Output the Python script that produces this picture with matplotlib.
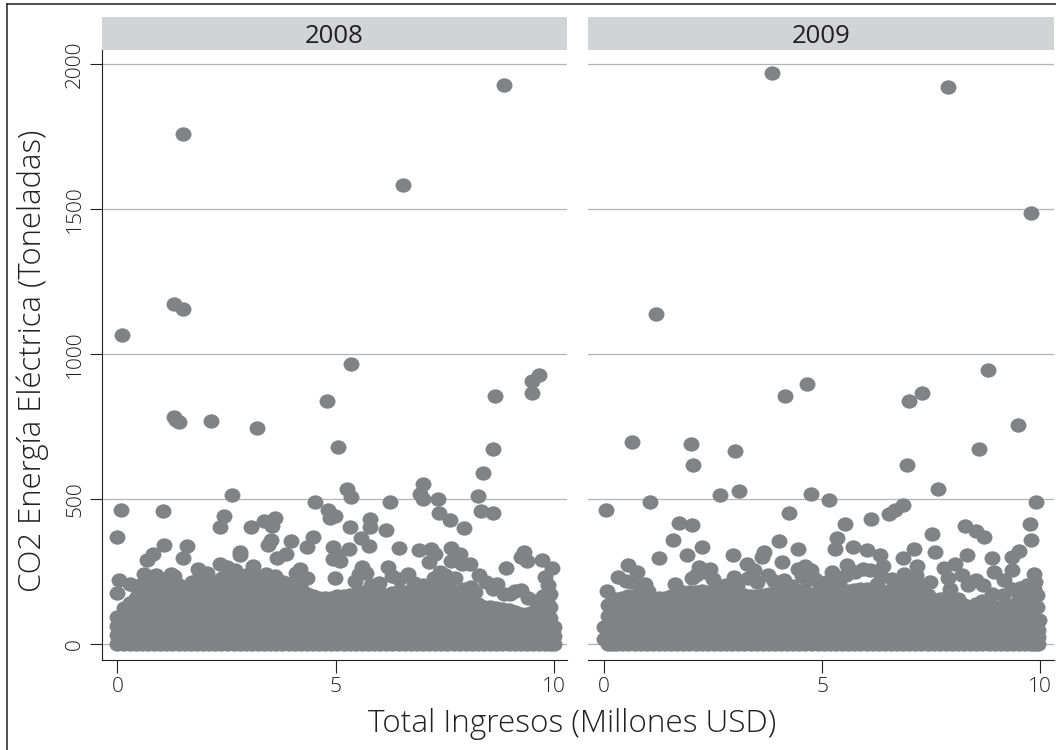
import matplotlib
matplotlib.use("Agg")
import matplotlib.pyplot as plt
from matplotlib.path import Path
import numpy as np

GREY = "#808285"
INK = "#231f20"
W, H = 1056, 750

years = ["2008", "2009"]
x_ticks = [0, 5, 10]
y_ticks = [0, 500, 1000, 1500, 2000]

# scattered firms above the dense band
x_2008 = [0.1, 1.3, 1.5, 1.5, 1.3, 1.35, 1.42, 2.15, 3.2, 4.8, 5.05, 5.35, 6.55, 8.65, 8.6, 8.85, 9.5, 9.5, 9.65,
          0.07, 0.0, 1.04, 2.62, 2.45, 2.36, 3.06, 3.36, 3.62, 3.55, 3.52, 3.46, 3.98, 4.47, 4.34, 4.52, 4.82, 4.86, 4.98,
          5.25, 5.34, 5.33, 5.79, 5.79, 5.58, 5.76, 6.15, 6.25, 6.45, 6.99, 6.93, 6.99, 7.35, 7.36, 7.63, 7.93, 8.26, 8.37,
          8.34, 8.6, 4.94, 5.3, 5.03, 4.94, 5.1, 6.9, 7.18, 7.28, 7.13, 7.65, 7.84, 7.65, 7.9, 8.07, 9.32, 9.24, 9.39,
          8.91, 9.72, 9.95, 9.8, 9.87, 9.91, 9.91, 9.95, 1.06, 1.6, 1.5, 0.81, 0.68, 2.81, 2.8, 3.86, 3.66, 2.35, 3.1,
          1.85, 2.06, 1.98, 1.23, 0.89, 0.6, 0.03, 0.29, 0.0, 2.65, 2.81, 3.4, 4.19, 4.98, 5.61, 5.53, 6.19, 6.65, 7.4,
          7.74, 8.28, 8.11, 8.7, 9.24, 8.99, 9.24,
          0.4, 0.6, 0.75, 1.0, 1.15, 1.3, 1.4, 1.7, 1.9, 2.2, 2.4, 2.5, 2.7, 2.95, 3.2, 3.6, 3.8, 4.05, 4.35, 4.1,
          5.7, 5.45, 5.8, 6.0, 6.3, 6.45, 6.8, 7.0, 7.25, 7.5, 7.6, 7.95, 8.2, 8.45, 8.6, 8.85, 9.1, 9.4, 9.6, 9.75, 9.85]
y_2008 = [1068, 1175, 1155, 1760, 785, 775, 765, 770, 745, 838, 680, 965, 1583, 857, 675, 1930, 868, 908, 930,
          463, 370, 459, 516, 444, 405, 405, 424, 435, 407, 361, 342, 355, 370, 336, 492, 462, 437, 441,
          536, 508, 405, 433, 405, 367, 339, 393, 492, 332, 552, 520, 502, 502, 453, 428, 401, 512, 589,
          459, 453, 336, 328, 307, 295, 287, 324, 330, 310, 284, 333, 313, 287, 278, 276, 318, 301, 287,
          264, 290, 264, 232, 204, 129, 175, 60, 342, 338, 296, 313, 290, 319, 307, 313, 296, 278, 269,
          261, 246, 221, 244, 240, 244, 221, 209, 177, 250, 232, 244, 261, 230, 267, 244, 267, 241, 250,
          230, 238, 198, 209, 186, 175, 106,
          200, 215, 225, 215, 225, 235, 205, 215, 240, 215, 230, 265, 255, 240, 235, 235, 215, 215, 230, 245,
          245, 220, 205, 210, 235, 225, 210, 205, 230, 240, 215, 190, 180, 215, 190, 175, 185, 160, 150, 165, 150]

x_2009 = [3.85, 7.9, 9.8, 1.2, 8.8, 4.65, 7.3, 4.15, 7.0, 0.65, 2.0, 2.05, 9.5, 3.0, 8.6, 6.95,
          0.05, 1.06, 2.66, 3.09, 4.25, 4.74, 5.17, 6.13, 6.53, 6.68, 6.86, 5.53, 7.67, 7.52, 7.6, 7.1, 6.86, 6.33,
          8.29, 8.52, 8.71, 9.91, 9.78, 9.8, 9.51, 9.36, 8.9, 8.32, 8.06, 7.79, 7.18, 6.87, 7.47, 7.94, 7.71, 8.54,
          8.94, 9.36, 9.17, 9.85, 9.89, 9.93, 9.51, 9.93, 9.97, 9.92, 1.71, 2.01, 1.59, 1.27, 2.24, 1.9, 2.95, 3.27,
          3.43, 3.66, 3.62, 4.02, 4.45, 4.09, 4.61, 4.46, 5.34, 5.3, 5.72, 6.03, 5.57, 5.95, 5.23, 0.54, 0.33, 0.75,
          0.94, 0.08, 1.63, 2.17, 2.43, 2.01, 2.97, 3.77, 4.12, 4.65, 4.96, 6.26,
          0.5, 0.65, 0.85, 1.0, 1.75, 2.1, 2.3, 2.5, 2.6, 2.8, 3.05, 3.3, 3.5, 3.9, 4.3, 4.55, 4.75, 4.85, 5.1, 5.4,
          5.55, 5.75, 6.1, 6.4, 6.35, 6.6, 6.8, 7.0, 7.15, 7.3, 7.9, 8.2, 8.35, 8.7, 8.9, 9.15, 9.35, 9.55, 9.7, 9.85, 9.8, 9.6]
y_2009 = [1970, 1920, 1487, 1140, 945, 898, 868, 857, 838, 698, 692, 617, 755, 668, 673, 618,
          462, 489, 516, 528, 453, 520, 496, 433, 451, 462, 480, 414, 535, 381, 320, 330, 299, 307,
          407, 391, 370, 489, 414, 359, 321, 301, 299, 309, 278, 264, 270, 244, 215, 192, 154, 221,
          250, 255, 221, 244, 215, 169, 158, 129, 83, 25, 419, 411, 359, 299, 336, 307, 309, 278,
          255, 318, 301, 355, 330, 284, 269, 261, 368, 330, 336, 324, 273, 261, 250, 273, 232, 250,
          209, 184, 207, 267, 261, 227, 232, 238, 221, 221, 209, 209,
          220, 215, 195, 185, 185, 240, 250, 225, 205, 205, 200, 230, 215, 220, 200, 235, 255, 225, 215, 215,
          240, 250, 255, 270, 235, 225, 210, 225, 240, 205, 230, 240, 205, 205, 175, 170, 190, 195, 205, 190, 110, 170]

# dense band near zero: one list of values per revenue position
band_x_2008 = [0.00, 0.14, 0.28, 0.42, 0.56, 0.70, 0.84, 0.98, 1.12, 1.26, 1.40, 1.54, 1.68, 1.82, 1.96, 2.10,
               2.24, 2.38, 2.52, 2.66, 2.80, 2.94, 3.08, 3.22, 3.36, 3.50, 3.64, 3.78, 3.92, 4.06, 4.20, 4.34,
               4.48, 4.62, 4.76, 4.90, 5.04, 5.18, 5.32, 5.46, 5.60, 5.74, 5.88, 6.02, 6.16, 6.30, 6.44, 6.58,
               6.72, 6.86, 7.00, 7.14, 7.28, 7.42, 7.56, 7.70, 7.84, 7.98, 8.12, 8.26, 8.40, 8.54, 8.68, 8.82,
               8.96, 9.10, 9.24, 9.38, 9.52, 9.66, 9.80, 9.90, 10.00]
band_y_2008 = [
    [0, 32, 64, 94], [0, 45, 90, 125],
    [0, 16, 48, 80, 112, 144], [0, 45, 90, 135, 160],
    [0, 32, 64, 96, 128, 160, 180], [0, 45, 90, 135, 175],
    [0, 16, 48, 80, 112, 144, 176, 190], [0, 45, 90, 135, 185],
    [0, 32, 64, 96, 128, 160, 195], [0, 45, 90, 135, 185],
    [0, 16, 48, 80, 112, 144, 176, 190], [0, 45, 90, 135, 180],
    [0, 32, 64, 96, 128, 160, 180], [0, 45, 90, 135, 185],
    [0, 16, 48, 80, 112, 144, 176, 190], [0, 45, 90, 135, 195],
    [0, 32, 64, 96, 128, 160, 200], [0, 45, 90, 135, 205],
    [0, 16, 48, 80, 112, 144, 176, 210], [0, 45, 90, 135, 210],
    [0, 32, 64, 96, 128, 160, 192, 215], [0, 45, 90, 135, 210],
    [0, 16, 48, 80, 112, 144, 176, 215], [0, 45, 90, 135, 210],
    [0, 32, 64, 96, 128, 160, 192, 215], [0, 45, 90, 135, 205],
    [0, 16, 48, 80, 112, 144, 176, 210], [0, 45, 90, 135, 200],
    [0, 32, 64, 96, 128, 160, 195], [0, 45, 90, 135, 190],
    [0, 16, 48, 80, 112, 144, 176, 190], [0, 45, 90, 135, 175],
    [0, 32, 64, 96, 128, 165], [0, 45, 90, 135, 160],
    [0, 16, 48, 80, 112, 144, 160], [0, 45, 90, 135, 160],
    [0, 32, 64, 96, 128, 165], [0, 45, 90, 135, 165],
    [0, 16, 48, 80, 112, 144, 170], [0, 45, 90, 135, 175],
    [0, 32, 64, 96, 128, 160, 180], [0, 45, 90, 135, 178],
    [0, 16, 48, 80, 112, 144, 180], [0, 45, 90, 135, 175],
    [0, 32, 64, 96, 128, 170], [0, 45, 90, 135, 178],
    [0, 16, 48, 80, 112, 144, 185], [0, 45, 90, 135, 182],
    [0, 32, 64, 96, 128, 160, 185], [0, 45, 90, 135, 180],
    [0, 16, 48, 80, 112, 144, 175], [0, 45, 90, 135, 188],
    [0, 32, 64, 96, 128, 160, 200], [0, 45, 90, 135, 195],
    [0, 16, 48, 80, 112, 144, 176, 195], [0, 45, 90, 135, 180],
    [0, 32, 64, 96, 128, 170], [0, 45, 90, 135, 160],
    [0, 16, 48, 80, 112, 150], [0, 45, 90, 140],
    [0, 32, 64, 96, 130], [0, 45, 90, 128],
    [0, 16, 48, 80, 112, 125], [0, 45, 90, 122],
    [0, 32, 64, 96, 120], [0, 45, 90, 110],
    [0, 16, 48, 80, 100], [0, 45, 90, 105],
    [0, 32, 64, 96, 110], [0, 45, 90, 115],
    [0, 16, 48, 80, 120], [0, 45, 90],
    [0, 30, 60],
]

band_x_2009 = [0.00, 0.10, 0.19, 0.28, 0.42, 0.56, 0.70, 0.84, 0.98, 1.12, 1.26, 1.40, 1.54, 1.68, 1.82, 1.96,
               2.10, 2.24, 2.38, 2.52, 2.66, 2.80, 2.94, 3.08, 3.22, 3.36, 3.50, 3.64, 3.78, 3.92, 4.06, 4.20,
               4.34, 4.48, 4.62, 4.76, 4.90, 5.04, 5.18, 5.32, 5.46, 5.60, 5.74, 5.88, 6.02, 6.16, 6.30, 6.44,
               6.58, 6.72, 6.86, 7.00, 7.14, 7.28, 7.42, 7.56, 7.70, 7.84, 7.98, 8.12, 8.26, 8.40, 8.54, 8.68,
               8.82, 8.96, 9.10, 9.24, 9.38, 9.52, 9.66, 9.80, 9.88, 9.95]
band_y_2009 = [
    [20, 60], [0, 32, 64, 96, 135], [0, 45, 90, 135, 150],
    [0, 16, 48, 80, 112, 144, 158], [0, 45, 90, 135, 160],
    [0, 32, 64, 96, 128, 165], [0, 45, 90, 135, 165],
    [0, 16, 48, 80, 112, 144, 165], [0, 45, 90, 135, 162],
    [0, 32, 64, 96, 128, 160], [0, 45, 90, 135, 160],
    [0, 16, 48, 80, 112, 144, 160], [0, 45, 90, 135, 165],
    [0, 32, 64, 96, 128, 170], [0, 45, 90, 135, 175],
    [0, 16, 48, 80, 112, 144, 180], [0, 45, 90, 135, 182],
    [0, 32, 64, 96, 128, 160, 185], [0, 45, 90, 135, 180],
    [0, 16, 48, 80, 112, 144, 175], [0, 45, 90, 135, 178],
    [0, 32, 64, 96, 128, 160, 180], [0, 45, 90, 135, 178],
    [0, 16, 48, 80, 112, 144, 175], [0, 45, 90, 135, 170],
    [0, 32, 64, 96, 128, 165], [0, 45, 90, 135, 168],
    [0, 16, 48, 80, 112, 144, 170], [0, 45, 90, 135, 172],
    [0, 32, 64, 96, 128, 160, 175], [0, 45, 90, 135, 178],
    [0, 16, 48, 80, 112, 144, 180], [0, 45, 90, 135, 182],
    [0, 32, 64, 96, 128, 160, 185], [0, 45, 90, 135, 180],
    [0, 16, 48, 80, 112, 144, 175], [0, 45, 90, 135, 175],
    [0, 32, 64, 96, 128, 175], [0, 45, 90, 135, 178],
    [0, 16, 48, 80, 112, 144, 180], [0, 45, 90, 135, 182],
    [0, 32, 64, 96, 128, 160, 185], [0, 45, 90, 135, 188],
    [0, 16, 48, 80, 112, 144, 176, 190], [0, 45, 90, 135, 190],
    [0, 32, 64, 96, 128, 160, 190], [0, 45, 90, 135, 185],
    [0, 16, 48, 80, 112, 144, 180], [0, 45, 90, 135, 188],
    [0, 32, 64, 96, 128, 160, 195], [0, 45, 90, 135, 200],
    [0, 16, 48, 80, 112, 144, 176, 205], [0, 45, 90, 135, 198],
    [0, 32, 64, 96, 128, 160, 190], [0, 45, 90, 135, 170],
    [0, 16, 48, 80, 112, 150], [0, 45, 90, 135, 155],
    [0, 32, 64, 96, 128, 160], [0, 45, 90, 135, 158],
    [0, 16, 48, 80, 112, 155], [0, 45, 90, 135],
    [0, 32, 64, 96, 130], [0, 45, 90, 140],
    [0, 16, 48, 80, 112, 150], [0, 45, 90, 140],
    [0, 32, 64, 96, 130], [0, 45, 90, 125],
    [0, 16, 48, 80, 112, 130], [0, 45, 90, 135],
    [0, 32, 64, 96, 140], [0, 45, 90, 140],
    [0, 16, 48, 80, 112, 140], [0, 40, 80],
    [0, 25, 50],
]

plt.rcParams["font.family"] = ["Open Sans", "DejaVu Sans"]

# the dots in the source are a little wider than tall
circle = Path.unit_circle()
DOT = Path(circle.vertices * [1.0, 0.9], circle.codes)
DOT_SIZE = 132


def pixel_axes(fig, left, top, right, bottom):
    return fig.add_axes([left / W, 1 - bottom / H, (right - left) / W, (bottom - top) / H])


def draw_panel(fig, box, xlim, year, x_pts, y_pts, band_x, band_y, show_y):
    ax = pixel_axes(fig, *box)
    ax.set_xlim(*xlim)
    ax.set_ylim(-54, 2049)
    ax.set_yticks(y_ticks)
    ax.set_xticks(x_ticks)
    ax.yaxis.grid(True, color="#b3b3b3", linewidth=0.9)
    ax.set_axisbelow(True)
    for side in ["top", "right"]:
        ax.spines[side].set_visible(False)
    ax.spines["left"].set_visible(show_y)
    ax.spines["left"].set_color(INK)
    ax.spines["bottom"].set_color(INK)
    ax.tick_params(axis="x", length=9, width=0.8, color=INK, labelcolor=INK, labelsize=15, pad=3)
    if show_y:
        ax.tick_params(axis="y", length=9, width=0.8, color=INK, labelcolor=INK, labelsize=15, pad=3)
        plt.setp(ax.get_yticklabels(), rotation=90, va="center")
    else:
        ax.tick_params(axis="y", length=0, labelleft=False)
    for lab in ax.get_xticklabels() + ax.get_yticklabels():
        lab.set_fontweight("light")

    ax.scatter(x_pts, y_pts, s=DOT_SIZE, marker=DOT, color=GREY, linewidths=0, zorder=3)
    lens = [len(v) for v in band_y]
    ax.scatter(np.repeat(band_x, lens), np.concatenate(band_y), s=DOT_SIZE, marker=DOT,
               color=GREY, linewidths=0, zorder=3)

    strip = pixel_axes(fig, box[0], 17, box[2], 50)
    strip.set_facecolor("#d1d3d4")
    strip.set_xticks([])
    strip.set_yticks([])
    for s in strip.spines.values():
        s.set_visible(False)
    strip.text(0.5, 0.42, year, ha="center", va="center", transform=strip.transAxes,
               fontsize=18.5, color=INK)
    return ax


fig = plt.figure(figsize=(W / 100, H / 100), dpi=100, facecolor="white")

draw_panel(fig, (102, 50, 567, 660), (-0.355, 10.3), years[0], x_2008, y_2008, band_x_2008, band_y_2008, True)
draw_panel(fig, (588, 50, 1054, 660), (-0.367, 10.32), years[1], x_2009, y_2009, band_x_2009, band_y_2009, False)

fig.text(33 / W, 1 - 361 / H, "CO2 Energía Eléctrica (Toneladas)", rotation=90, ha="center", va="center",
         fontsize=22.3, fontweight="light", color=INK)
fig.text(572 / W, 1 - 724 / H, "Total Ingresos (Millones USD)", ha="center", va="center",
         fontsize=22.7, fontweight="light", color=INK)

# page frame lines at the top and left edge
fig.add_artist(plt.Line2D([7 / W, 1], [1 - 4 / H, 1 - 4 / H], color=INK, linewidth=1.1))
fig.add_artist(plt.Line2D([7 / W, 7 / W], [0, 1 - 4 / H], color=INK, linewidth=1.1))

fig.savefig("out.png", dpi=100)
plt.close(fig)
